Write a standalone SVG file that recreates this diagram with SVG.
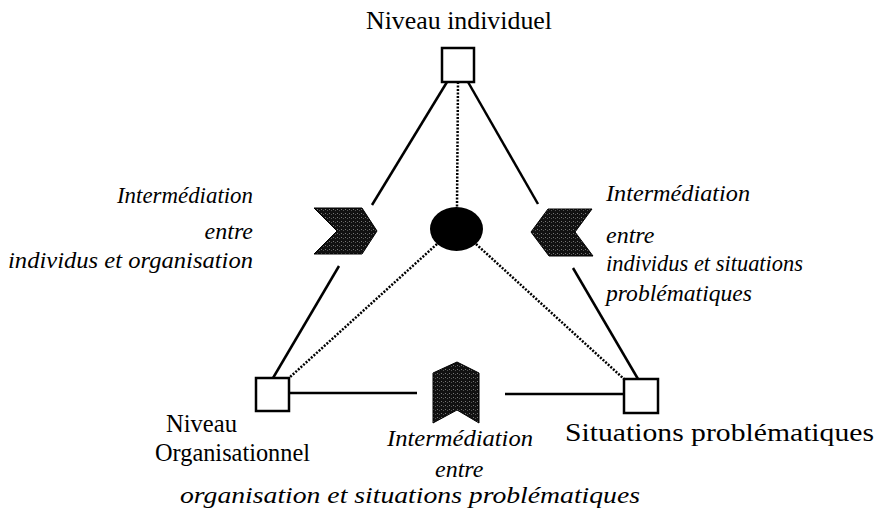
<svg xmlns="http://www.w3.org/2000/svg" width="879" height="512" viewBox="0 0 879 512">
<defs>
<pattern id="stip" width="4" height="4" patternUnits="userSpaceOnUse">
<rect width="4" height="4" fill="#111"/>
<rect x="1" y="1" width="1" height="1" fill="#777"/>
<rect x="3" y="2" width="1" height="1" fill="#555"/>
</pattern>
</defs>
<style>
.sq{fill:#fff;stroke:#000;stroke-width:2.5}
.ln{stroke:#000;stroke-width:2.5;fill:none}
.dt{stroke:#000;stroke-width:2.5;fill:none;stroke-dasharray:2 1.5}
.chev{fill:url(#stip);stroke:#000;stroke-width:1}
.t{font-family:"Liberation Serif","Times New Roman",serif;font-size:26px;fill:#000}
.it{font-family:"Liberation Serif","Times New Roman",serif;font-size:24px;font-style:italic;fill:#000}
</style>
<rect width="879" height="512" fill="#fff"/>
<g id="connectors">
<line class="ln" x1="447" y1="82" x2="372" y2="205"/>
<line class="ln" x1="339" y1="266" x2="273" y2="378"/>
<line class="ln" x1="468" y1="82" x2="538" y2="204"/>
<line class="ln" x1="573" y1="268" x2="638" y2="379"/>
<line class="ln" x1="289" y1="393" x2="417" y2="393"/>
<line class="ln" x1="505" y1="394" x2="624" y2="394"/>
<line class="dt" x1="458" y1="82" x2="457" y2="207"/>
<line class="dt" x1="437" y1="244" x2="289" y2="378"/>
<line class="dt" x1="476" y1="244" x2="624" y2="379"/>
</g>
<g id="node-individuel">
<rect class="sq" x="442" y="48" width="32" height="34"/>
<text class="t" x="366" y="29" textLength="186" lengthAdjust="spacingAndGlyphs">Niveau individuel</text>
</g>
<g id="node-organisationnel">
<rect class="sq" x="256" y="378" width="33" height="33"/>
<text class="t" x="166" y="432" textLength="71" lengthAdjust="spacingAndGlyphs">Niveau</text>
<text class="t" x="155" y="461" textLength="155" lengthAdjust="spacingAndGlyphs">Organisationnel</text>
</g>
<g id="node-situations">
<rect class="sq" x="624" y="379" width="34" height="34"/>
<text class="t" x="565" y="441" textLength="309" lengthAdjust="spacingAndGlyphs">Situations problématiques</text>
</g>
<g id="node-centre">
<ellipse cx="456.5" cy="229" rx="26.5" ry="22" fill="#000"/>
</g>
<g id="node-inter-left">
<polygon class="chev" points="314,208 362,208 377,231 362,254 314,254 337,231"/>
<text class="it" x="253" y="203" text-anchor="end" textLength="136" lengthAdjust="spacingAndGlyphs">Intermédiation</text>
<text class="it" x="253" y="239" text-anchor="end">entre</text>
<text class="it" x="253" y="268" text-anchor="end" textLength="245" lengthAdjust="spacingAndGlyphs">individus et organisation</text>
</g>
<g id="node-inter-right">
<polygon class="chev" points="531,232 548,209 592,209 575,232 593,256 549,256"/>
<text class="it" x="606" y="201" textLength="144" lengthAdjust="spacingAndGlyphs">Intermédiation</text>
<text class="it" x="606" y="243">entre</text>
<text class="it" x="606" y="271" textLength="197" lengthAdjust="spacingAndGlyphs">individus et situations</text>
<text class="it" x="606" y="301" textLength="146" lengthAdjust="spacingAndGlyphs">problématiques</text>
</g>
<g id="node-inter-bottom">
<polygon class="chev" points="433,373 457,362 479,373 479,423 457,410 433,423"/>
<text class="it" x="387" y="446" textLength="146" lengthAdjust="spacingAndGlyphs">Intermédiation</text>
<text class="it" x="435" y="477">entre</text>
<text class="it" x="180" y="503" textLength="460" lengthAdjust="spacingAndGlyphs">organisation et situations problématiques</text>
</g>
</svg>
